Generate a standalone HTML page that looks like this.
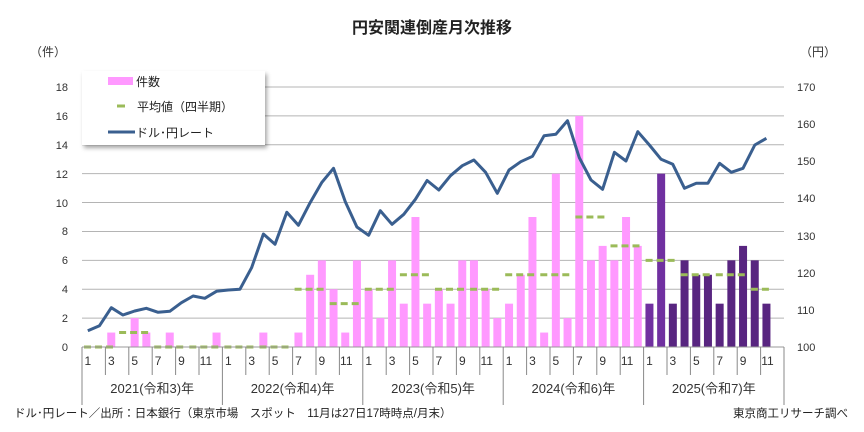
<!DOCTYPE html>
<html><head><meta charset="utf-8"><style>
html,body{margin:0;padding:0;background:#fff}
svg{display:block;font-family:"Liberation Sans","Noto Sans CJK JP",sans-serif}
</style></head><body>
<svg id="s" width="864" height="432" viewBox="0 0 864 432" xmlns="http://www.w3.org/2000/svg">
<defs><filter id="sh" x="-10%" y="-10%" width="130%" height="140%"><feDropShadow dx="2" dy="3" stdDeviation="2" flood-color="#000" flood-opacity="0.35"/></filter></defs>
<text x="432" y="33" text-anchor="middle" font-size="16" font-weight="bold" fill="#222">円安関連倒産月次推移</text>
<text x="30" y="56" font-size="12" fill="#333">（件）</text>
<text x="800" y="56" font-size="12" fill="#333">（円）</text>
<g id="grid" stroke="#b4b4b4" stroke-width="1"></g>
<g font-size="11" fill="#333" text-anchor="end">
<text x="68" y="351">0</text><text x="68" y="322">2</text><text x="68" y="293">4</text><text x="68" y="264">6</text><text x="68" y="235">8</text><text x="68" y="207">10</text><text x="68" y="178">12</text><text x="68" y="149">14</text><text x="68" y="120">16</text><text x="68" y="91">18</text>
</g>
<g font-size="11" fill="#333">
<text x="797" y="351">100</text><text x="797" y="314">110</text><text x="797" y="277">120</text><text x="797" y="240">130</text><text x="797" y="202">140</text><text x="797" y="165">150</text><text x="797" y="128">160</text><text x="797" y="91">170</text>
</g>
<g id="bars"></g>
<g id="avg" stroke="#9bbb59" stroke-width="3" stroke-dasharray="7,4"></g>
<polyline id="line" fill="none" stroke="#3a5f8f" stroke-width="3" stroke-linejoin="round"/>
<g id="axis" stroke="#888" stroke-width="1"></g>
<g font-size="12" fill="#333" text-anchor="middle" id="months">
<g><text x="87.9" y="365">1</text><text x="111.3" y="365">3</text><text x="134.7" y="365">5</text><text x="158.1" y="365">7</text><text x="181.5" y="365">9</text><text x="205.9" y="365">11</text></g>
<g transform="translate(140.4,0)"><text x="87.9" y="365">1</text><text x="111.3" y="365">3</text><text x="134.7" y="365">5</text><text x="158.1" y="365">7</text><text x="181.5" y="365">9</text><text x="205.9" y="365">11</text></g>
<g transform="translate(280.8,0)"><text x="87.9" y="365">1</text><text x="111.3" y="365">3</text><text x="134.7" y="365">5</text><text x="158.1" y="365">7</text><text x="181.5" y="365">9</text><text x="205.9" y="365">11</text></g>
<g transform="translate(421.2,0)"><text x="87.9" y="365">1</text><text x="111.3" y="365">3</text><text x="134.7" y="365">5</text><text x="158.1" y="365">7</text><text x="181.5" y="365">9</text><text x="205.9" y="365">11</text></g>
<g transform="translate(561.6,0)"><text x="87.9" y="365">1</text><text x="111.3" y="365">3</text><text x="134.7" y="365">5</text><text x="158.1" y="365">7</text><text x="181.5" y="365">9</text><text x="205.9" y="365">11</text></g>
</g>
<g font-size="13" fill="#333" text-anchor="middle">
<text x="152.2" y="393">2021(令和3)年</text><text x="292.6" y="393">2022(令和4)年</text><text x="433" y="393">2023(令和5)年</text><text x="573.4" y="393">2024(令和6)年</text><text x="713.8" y="393">2025(令和7)年</text>
</g>
<text x="14" y="417" font-size="11.5" fill="#222">ドル･円レート／出所：日本銀行（東京市場　スポット　11月は27日17時時点/月末）</text>
<text x="848" y="417" font-size="11.5" fill="#222" text-anchor="end">東京商工リサーチ調べ</text>
<g filter="url(#sh)"><rect x="82" y="71" width="183" height="74" fill="#fff"/></g>
<rect x="108" y="77" width="25" height="8" fill="#ff99ff"/>
<text x="136" y="86" font-size="12" fill="#222">件数</text>
<line x1="117" y1="106" x2="125" y2="106" stroke="#9bbb59" stroke-width="3"/>
<text x="137" y="111" font-size="12" fill="#222">平均値（四半期）</text>
<line x1="108" y1="132" x2="135" y2="132" stroke="#3a5f8f" stroke-width="3"/>
<text x="136" y="137" font-size="12" fill="#222">ドル･円レート</text>
<script>
var NS="http://www.w3.org/2000/svg";
function el(p,t,a){var e=document.createElementNS(NS,t);for(var k in a)e.setAttribute(k,a[k]);p.appendChild(e);return e;}
var L=82,R=784,B=347,U=14.444,W=11.7;
var g=document.getElementById('grid');
for(var v=2;v<=18;v+=2){var y=B-v*U;el(g,'line',{x1:L,x2:R,y1:y,y2:y});}
var bars=[0,0,1,0,2,1,0,1,0,0,0,1, 0,0,0,1,0,0,1,5,6,4,1,6, 4,2,6,3,9,3,4,3,6,6,4,2, 3,5,9,1,12,2,16,6,7,6,9,7, 3,12,3,6,5,5,3,6,7,6,3];
var bg=document.getElementById('bars');
bars.forEach(function(v,i){if(!v)return;var cx=L+(i+0.5)*W;var c=i<48?'#ff99ff':(i<50?'#7030a0':'#582580');
el(bg,'rect',{x:cx-4,y:B-v*U,width:8,height:v*U,fill:c});});
var av=[0,1,0,0, 0,0,4,3, 4,5,4,4, 5,5,9,7, 6,5,5,4];
var ag=document.getElementById('avg');
av.forEach(function(v,q){var x1=L+q*3*W+2,x2=L+(q*3+ (q==19?2:3))*W-2;var y=B-v*U;el(ag,'line',{x1:x1,x2:x2,y1:y,y2:y});});
var ly=[330.7,325.7,307.7,315,311,308.3,312.3,311.3,302.7,296,298.3,291.3,
290,289.3,267.7,234,244.3,212.3,225.3,202.7,182.3,168.3,201.7,227,
235.3,210.7,224.3,214.3,199.3,180.5,190,175.7,165.7,160,172.3,193.3,
170,161.7,156.3,135.7,134.3,120.7,157.7,180,189.3,152.3,161,131.7,
145,159.3,164.3,188.3,183.3,183.3,163.3,172.3,168.3,145,138.3];
document.getElementById('line').setAttribute('points',ly.map(function(y,i){return (L+(i+0.5)*W).toFixed(1)+','+y;}).join(' '));
var ax=document.getElementById('axis');
el(ax,'line',{x1:L,x2:R,y1:B,y2:B,stroke:'#999'});
el(ax,'line',{x1:R,x2:R,y1:B,y2:375});
for(var k=0;k<=30;k++){var x=L+k*2*W;var y2=(k%6==0)?405:375;if(k==30)y2=405;el(ax,'line',{x1:x,x2:x,y1:B,y2:y2});}
</script>
</svg>
</body></html>
